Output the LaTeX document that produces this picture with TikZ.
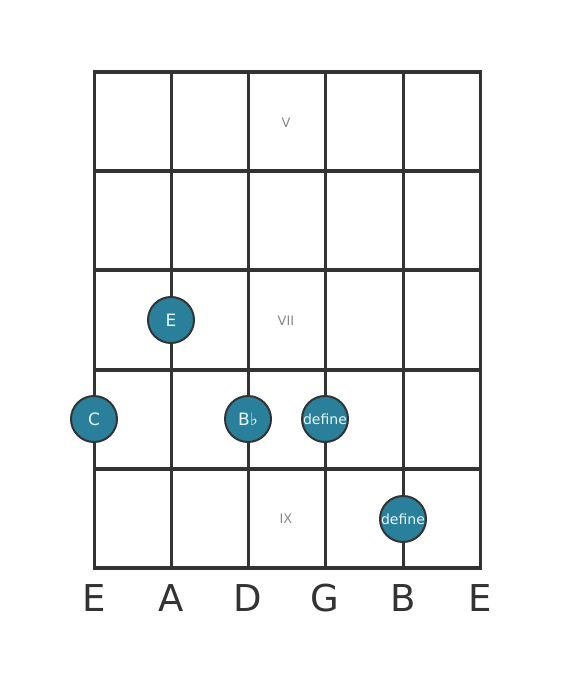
\documentclass[tikz,border=0pt]{standalone}
\usepackage{fontspec}
\setmainfont{DejaVu Sans}
\definecolor{grid}{HTML}{333333}
\definecolor{dotfill}{HTML}{2A809A}
\definecolor{roman}{HTML}{888888}
\definecolor{dottext}{HTML}{E8F6FA}
\begin{document}
\begin{tikzpicture}[x=1pt,y=-1pt,
  fretline/.style={draw=grid,line width=4pt},
  stringline/.style={draw=grid,line width=3pt},
  dot/.style={circle,draw=grid,line width=2pt,fill=dotfill,minimum size=46pt,inner sep=0pt,text=dottext,font=\fontsize{17}{17}\selectfont},
  smalldot/.style={dot,font=\fontsize{14}{14}\selectfont},
  romanlabel/.style={text=roman,font=\fontsize{13}{13}\selectfont},
  stringname/.style={text=grid,font=\fontsize{37}{37}\selectfont}]
\useasboundingbox (0,0) rectangle (560,682);
% strings
\foreach \x [count=\i] in {94,171,248,325,403,480} {
  \coordinate (st\i) at (\x,72);
  \coordinate (sb\i) at (\x,568);
  \draw[stringline] (st\i) -- (sb\i);
}
% frets
\foreach \y [count=\j] in {72,171,270,370,469,568} {
  \coordinate (fl\j) at (92.5,\y);
  \coordinate (fr\j) at (481.5,\y);
  \draw[fretline] (fl\j) -- (fr\j);
}
% roman labels
\node[romanlabel] (rV) at (286,123) {V};
\node[romanlabel] (rVII) at (286,321) {VII};
\node[romanlabel] (rIX) at (286,519) {IX};
% dots
\node[dot] (dC) at (94,419) {C};
\node[dot] (dE) at (171,320) {E};
\node[dot] (dBb) at (248,419) {B♭};
\node[smalldot] (dG) at (325,419) {define};
\node[smalldot] (dB) at (403,519) {define};
% string names
\foreach \x/\n [count=\i] in {94/E,171/A,248/D,325/G,403/B,480/E} {
  \node[stringname] (name\i) at (\x,598) {\n};
}
\end{tikzpicture}
\end{document}
